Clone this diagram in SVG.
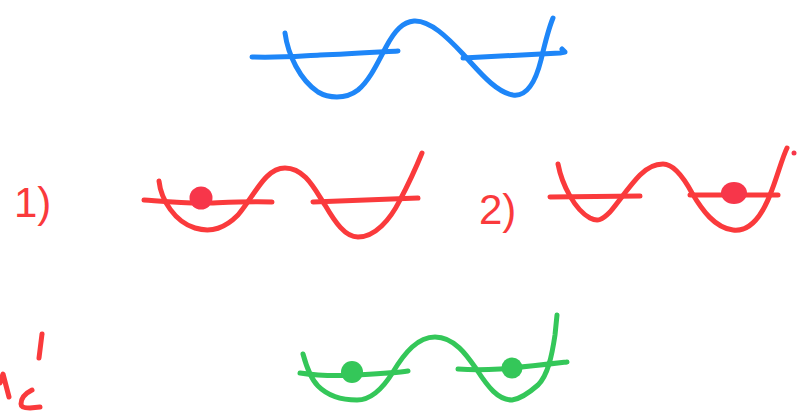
<svg xmlns="http://www.w3.org/2000/svg" width="807" height="418" viewBox="0 0 807 418">
<style>
.s{fill:none;stroke-linecap:round;stroke-linejoin:round;stroke-width:5}
.b{stroke:#1e86f8}
.r{stroke:#fa3a3c}
.g{stroke:#34c759}
.rf{fill:#f7364a}
.gf{fill:#34c759}
.lbl{font-family:"Liberation Sans",Arial,sans-serif;fill:#fa3a3c;font-size:42px}
</style>
<rect width="807" height="418" fill="#ffffff"/>
<g id="blue">
<path class="s b" d="M285,33 C288,55 300,80 318,92 C328,98 345,100 358,90 C370,80 378,62 386,47 C395,30 403,22 414,21 C430,20 448,38 463,54 C478,70 495,92 513,95 C528,97 536,80 541,60 C545,43 548,30 553,18"/>
<path class="s b" d="M252,57 C280,58 300,56 320,55 C350,54 380,52 398,51"/>
<path class="s b" d="M463,58 C480,57 520,55 560,53 L565,52 L562,49"/>
</g>
<g id="red1">
<text class="lbl" x="14" y="217">1)</text>
<path class="s r" d="M159,181 C161,200 175,222 195,228 C212,233 225,228 238,215 C255,195 265,168 285,168 C305,168 315,190 325,205 C335,222 345,237 358,237 C375,237 390,220 400,200 C408,185 415,170 422,153"/>
<path class="s r" d="M144,200 C170,202 190,204 210,203 C235,202 255,201 272,202"/>
<path class="s r" d="M313,202 L418,198"/>
<circle class="rf" cx="201" cy="198" r="11.5"/>
</g>
<g id="red2">
<text class="lbl" x="479" y="224">2)</text>
<path class="s r" d="M558,164 C562,185 575,210 590,218 C598,222 602,220 610,212 C620,200 630,185 640,175 C648,167 655,164 663,164 C675,164 685,180 692,193 C702,210 715,228 733,230 C750,232 762,215 770,195 C777,178 782,158 787,148"/>
<path class="s r" d="M550,197 L640,196"/>
<path class="s r" d="M690,195 L778,195"/>
<ellipse class="rf" cx="734" cy="193" rx="13" ry="11"/>
<circle class="rf" cx="794" cy="153" r="2.5"/>
</g>
<g id="green">
<path class="s g" d="M303,354 C306,365 310,378 318,386 C328,396 342,400 357,400 C372,400 385,385 393,372 C405,352 418,337 435,337 C455,337 468,357 477,370 C488,387 498,400 512,400 C520,399 530,392 538,385 C548,375 552,355 555,335 L557,315"/>
<path class="s g" d="M300,373 C320,376 340,376 357,375 C375,374 395,373 408,371"/>
<path class="s g" d="M458,369 C470,370 485,370 500,369 C525,367 550,364 567,362"/>
<circle class="gf" cx="352" cy="372" r="11"/>
<circle class="gf" cx="512" cy="368" r="10.5"/>
</g>
<g id="scribble">
<path class="s r" d="M42,334 L39,358"/>
<path class="s r" d="M0,383 L3,374 L9,397"/>
<path class="s r" d="M32,390 C26,393 21,398 21,404 C21,407 25,408 30,408 L40,407"/>
</g>
</svg>
